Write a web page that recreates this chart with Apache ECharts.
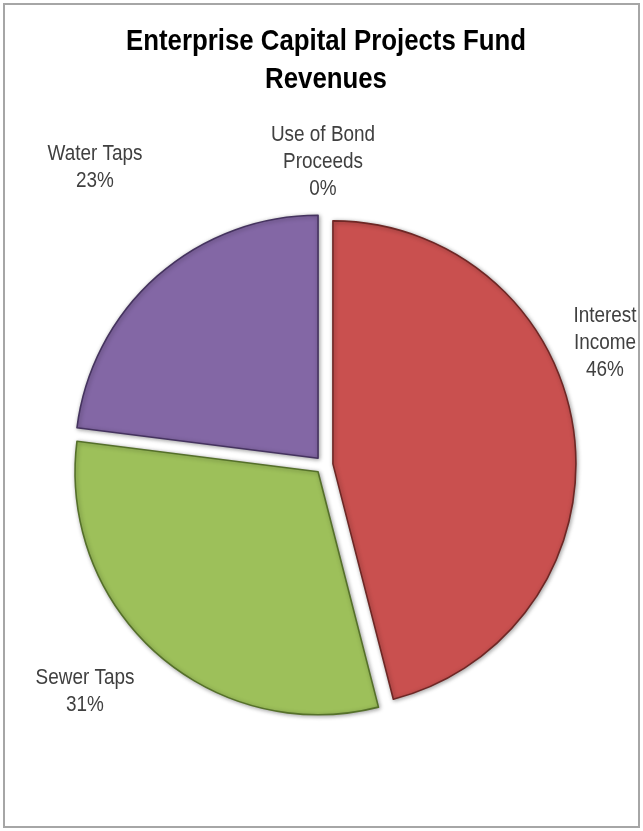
<!DOCTYPE html>
<html>
<head>
<meta charset="utf-8">
<script src="https://cdn.jsdelivr.net/npm/echarts@6/dist/echarts.min.js"></script>
<style>
  html, body { margin: 0; padding: 0; background: #fff; }
  #chart { width: 643px; height: 831px; }
</style>
</head>
<body>
<div id="chart"></div>
<script>
// Revenue sources (share of total, %)
const categories = ['Interest Income', 'Sewer Taps', 'Water Taps', 'Use of Bond Proceeds'];
const labelLines = [['Interest', 'Income'], ['Sewer Taps'], ['Water Taps'], ['Use of Bond', 'Proceeds']];
const shares = [46, 31, 23, 0];
const titleLines = ['Enterprise Capital Projects Fund', 'Revenues'];

const sliceColors = ['#C9504F', '#9DC05A', '#8367A5', '#4F81BD'];
const edgeColors = ['#6E2725', '#55702A', '#45335F', '#2C4D77'];

// centre point of each slice label block (pixels)
const labelAnchors = [
  [605, 343],
  [85, 691],
  [95, 167],
  [323, 162]
];

const FONT = '"Liberation Sans", Arial, sans-serif';
// narrow face emulated by horizontal compression
const NARROW = 0.86;

const chart = echarts.init(document.getElementById('chart'), null, { renderer: 'canvas' });

const labelTexts = categories.map((name, i) => ({
  type: 'text',
  x: labelAnchors[i][0],
  y: labelAnchors[i][1],
  scaleX: NARROW,
  silent: true,
  style: {
    text: labelLines[i].concat([shares[i] + '%']).join('\n'),
    font: '22px ' + FONT,
    fill: '#404040',
    align: 'center',
    verticalAlign: 'middle',
    lineHeight: 27
  }
}));

const titleText = {
  type: 'text',
  x: 326,
  y: 61,
  scaleX: 0.86,
  silent: true,
  style: {
    text: titleLines.join('\n'),
    font: 'bold 30px ' + FONT,
    fill: '#000000',
    align: 'center',
    verticalAlign: 'middle',
    lineHeight: 38
  }
};

chart.setOption({
  animation: false,
  backgroundColor: '#ffffff',
  graphic: [{
    type: 'rect',
    shape: { x: 4, y: 4, width: 635, height: 823 },
    style: { fill: 'none', stroke: '#A6A6A6', lineWidth: 2 },
    silent: true,
    z: -1
  }, titleText].concat(labelTexts),
  series: [{
    type: 'pie',
    center: [324, 465],
    radius: 243,
    startAngle: 90,
    clockwise: true,
    selectedMode: 'multiple',
    selectedOffset: 9,
    emphasis: { disabled: true },
    label: { show: false },
    labelLine: { show: false },
    data: categories.map((name, i) => ({
      name: name,
      value: shares[i],
      selected: true,
      itemStyle: shares[i] > 0 ? {
        color: sliceColors[i],
        borderColor: edgeColors[i],
        borderWidth: 1.6,
        shadowColor: 'rgba(0,0,0,0.35)',
        shadowBlur: 4,
        shadowOffsetX: 1,
        shadowOffsetY: 1
      } : {
        color: 'rgba(0,0,0,0)',
        borderWidth: 0
      }
    }))
  }]
});
</script>
</body>
</html>
